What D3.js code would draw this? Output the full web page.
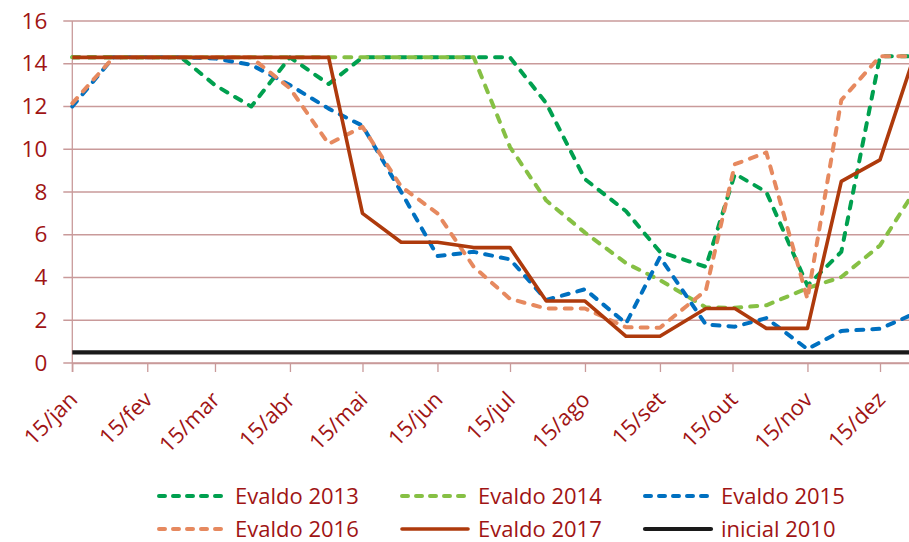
<!DOCTYPE html>
<html>
<head>
<meta charset="utf-8">
<script src="https://cdn.jsdelivr.net/npm/d3@7"></script>
<style>
  html, body { margin: 0; padding: 0; background: #fff; }
  svg { display: block; }
  text { font-family: "Open Sans", sans-serif; }
</style>
</head>
<body>
<svg id="chart" width="909" height="542"></svg>
<script>
// ---- data ----
const dates = ["2017-01-15","2017-02-01","2017-02-15","2017-03-01","2017-03-15","2017-03-30",
  "2017-04-15","2017-05-01","2017-05-15","2017-05-31","2017-06-15","2017-06-30",
  "2017-07-15","2017-07-30","2017-08-15","2017-09-01","2017-09-15","2017-10-04",
  "2017-10-16","2017-10-29","2017-11-15","2017-11-29","2017-12-15","2017-12-29"];

const evaldo2013 = [14.3,14.3,14.3,14.3,13.0,12.0,14.3,13.05,14.3,14.3,14.3,14.3,
  14.3,12.15,8.6,7.1,5.2,4.5,8.85,8.0,3.62,5.2,14.35,14.35];
const evaldo2014 = [14.3,14.3,14.3,14.3,14.3,14.3,14.3,14.3,14.3,14.3,14.3,14.3,
  10.1,7.6,6.1,4.67,3.88,2.6,2.58,2.7,3.5,4.02,5.5,8.0];
const evaldo2015 = [12.0,14.3,14.3,14.3,14.25,13.95,13.0,11.9,11.1,8.0,5.0,5.2,
  4.85,2.95,3.45,1.85,4.95,1.8,1.7,2.1,0.65,1.5,1.6,2.3];
const evaldo2016 = [12.15,14.3,14.3,14.3,14.3,14.3,12.85,10.25,11.05,8.25,7.0,4.5,
  3.0,2.55,2.55,1.67,1.65,3.4,9.3,9.85,3.0,12.3,14.35,14.35];
const evaldo2017 = [14.3,14.3,14.3,14.3,14.3,14.3,14.3,14.3,7.0,5.65,5.65,5.4,
  5.4,2.9,2.9,1.25,1.25,2.55,2.55,1.62,1.62,8.5,9.5,14.3];
const inicial2010 = [0.5,0.5,0.5,0.5,0.5,0.5,0.5,0.5,0.5,0.5,0.5,0.5,
  0.5,0.5,0.5,0.5,0.5,0.5,0.5,0.5,0.5,0.5,0.5,0.5];

const tickDates = ["2017-01-15","2017-02-15","2017-03-15","2017-04-15","2017-05-15","2017-06-15",
  "2017-07-15","2017-08-15","2017-09-15","2017-10-15","2017-11-15","2017-12-15"];
const tickLabels = ["15/jan","15/fev","15/mar","15/abr","15/mai","15/jun",
  "15/jul","15/ago","15/set","15/out","15/nov","15/dez"];
const yTicks = [0,2,4,6,8,10,12,14,16];

const seriesNames = ["Evaldo 2013","Evaldo 2014","Evaldo 2015","Evaldo 2016","Evaldo 2017","inicial 2010"];
const seriesValues = [evaldo2013, evaldo2014, evaldo2015, evaldo2016, evaldo2017, inicial2010];

// ---- styles ----
const colors = ["#00A04F","#86C044","#0070C0","#E6895F","#AE3A0C","#1a1a1a"];
const dashes = ["7,9","7,9","7,9","7,9",null,null];
const widths = [4,4,4,4,3.6,4.2];
const textColor = "#A01414";
const gridColor = "#C99A9A";

const W = 909, H = 542;
const pLeft = 72.3, pRight = 909, pTop = 21, pBottom = 363;

const parse = d3.timeParse("%Y-%m-%d");
const x = d3.scaleTime()
  .domain([parse("2017-01-15"), parse("2017-12-15")])
  .range([pLeft, 880]);
const y = d3.scaleLinear().domain([0,16]).range([pBottom, pTop]);

const svg = d3.select("#chart");

// gridlines
svg.append("g")
  .selectAll("line")
  .data(yTicks)
  .join("line")
  .attr("x1", pLeft - 9).attr("x2", pRight)
  .attr("y1", d => y(d)).attr("y2", d => y(d))
  .attr("stroke", gridColor).attr("stroke-width", 1.3);

// y axis
const yAxis = svg.append("g")
  .attr("transform", `translate(${pLeft},0)`)
  .call(d3.axisLeft(y).tickValues(yTicks).tickSize(0).tickPadding(25));
yAxis.select(".domain").remove();
yAxis.selectAll("text")
  .attr("fill", textColor)
  .style("font-size", "22.5px")
  .style("font-family", "'Open Sans', sans-serif");
svg.append("line")
  .attr("x1", pLeft).attr("x2", pLeft)
  .attr("y1", pTop).attr("y2", pBottom + 9)
  .attr("stroke", gridColor).attr("stroke-width", 1.3);

// x axis
const xAxis = svg.append("g")
  .attr("transform", `translate(0,${pBottom})`)
  .call(d3.axisBottom(x)
    .tickValues(tickDates.map(parse))
    .tickFormat((d, i) => tickLabels[i])
    .tickSize(9).tickSizeOuter(0));
xAxis.select(".domain").attr("stroke", gridColor).attr("stroke-width", 1.3)
  .attr("d", `M${pLeft},0.5H${pRight}`);
xAxis.selectAll(".tick line").attr("stroke", gridColor).attr("stroke-width", 1.3);
xAxis.selectAll(".tick text")
  .attr("fill", textColor)
  .attr("y", null).attr("dy", null)
  .attr("text-anchor", "end")
  .attr("transform", "translate(6,38) rotate(-45)")
  .style("font-size", "22px")
  .style("font-family", "'Open Sans', sans-serif");

// lines
const line = d3.line()
  .x((d, i) => x(parse(dates[i])))
  .y(d => y(d));

svg.append("g")
  .selectAll("path")
  .data(seriesValues)
  .join("path")
  .attr("d", d => line(d))
  .attr("fill", "none")
  .attr("stroke", (d, i) => colors[i])
  .attr("stroke-width", (d, i) => widths[i])
  .attr("stroke-dasharray", (d, i) => dashes[i])
  .attr("stroke-linecap", (d, i) => dashes[i] ? "round" : "butt")
  .attr("stroke-linejoin", "round");

// legend
const legX = [157, 400, 643];
const legY = [496, 529];
const leg = svg.append("g")
  .selectAll("g")
  .data(seriesNames)
  .join("g")
  .attr("transform", (d, i) => `translate(${legX[i % 3]},${legY[Math.floor(i / 3)]})`);
leg.append("line")
  .attr("x1", 2).attr("x2", 68).attr("y1", 0).attr("y2", 0)
  .attr("stroke", (d, i) => colors[i])
  .attr("stroke-width", (d, i) => widths[i])
  .attr("stroke-dasharray", (d, i) => dashes[i] ? "6,8" : null)
  .attr("stroke-linecap", "round");
leg.append("text")
  .attr("x", 78).attr("y", 7.5)
  .attr("fill", textColor)
  .style("font-size", "22px")
  .text(d => d);
</script>
</body>
</html>
